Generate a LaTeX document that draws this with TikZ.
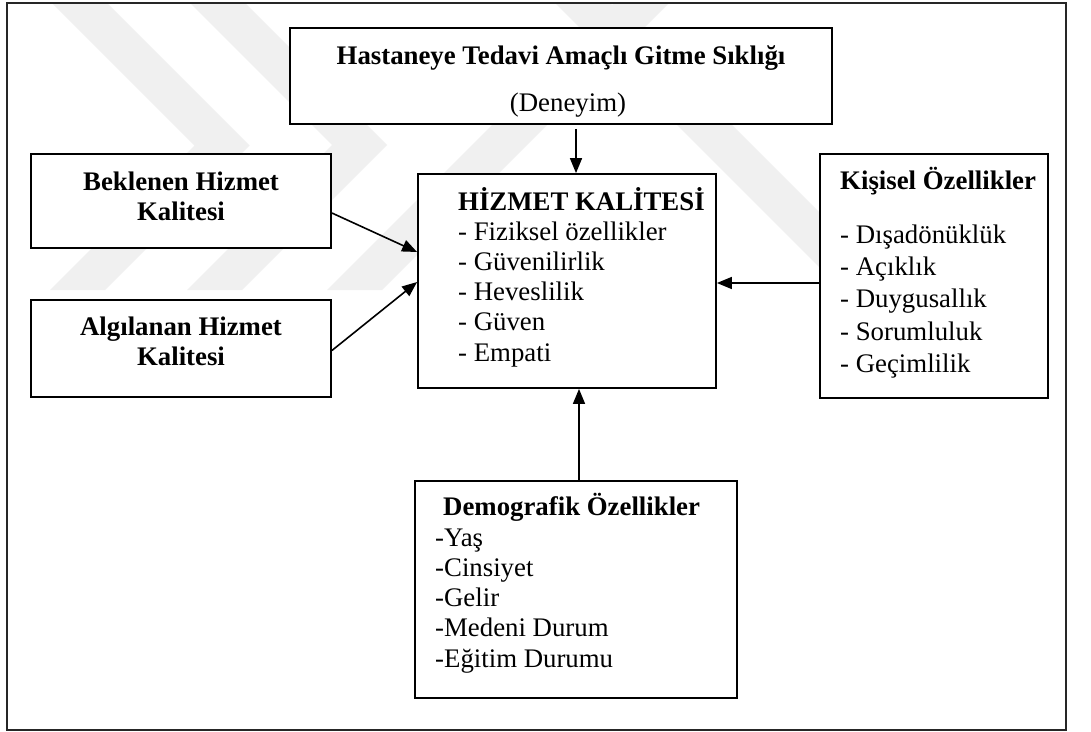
\documentclass[tikz,border=0pt]{standalone}
\usepackage{fontspec}
\setmainfont{Liberation Serif}
\usetikzlibrary{arrows.meta}
\begin{document}
\begin{tikzpicture}[x=1pt,y=-1pt,
  box/.style={draw,line width=1.8pt,fill=white,rectangle,inner sep=0pt},
  txt/.style={inner sep=0pt,font=\fontsize{26.8}{30.2}\selectfont},
  btxt/.style={inner sep=0pt,font=\fontsize{26.8}{30.2}\selectfont\bfseries},
  link/.style={line width=1.6pt,-{Triangle[length=15pt,width=12pt]}},
  wmark/.style={fill=black!6}]
\useasboundingbox (0,0) rectangle (1091,731);
\fill[white] (0,0) rectangle (1091,731);

% faint background emblem
\begin{scope}
  \clip (7,3) rectangle (1066,290);
  \fill[wmark] (52,3) -- (107,3) -- (249.5,145.5) -- (105,290) -- (50,290) -- (194.5,145.5) -- cycle;
  \fill[wmark] (190,3) -- (245,3) -- (387,145) -- (242,290) -- (187,290) -- (332,145) -- cycle;
  \fill[wmark] (555,3) -- (610,3) -- (897,290) -- (842,290) -- cycle;
  \fill[wmark] (327,290) -- (382,290) -- (669,3) -- (614,3) -- cycle;
\end{scope}

% outer frame
\draw[line width=1.5pt,black!85] (7,3) rectangle (1066,730);

% boxes
\node[box,minimum width=542pt,minimum height=96pt]  (top) at (561,76) {};
\node[box,minimum width=300pt,minimum height=94pt]  (bek) at (181,201) {};
\node[box,minimum width=300pt,minimum height=97pt]  (alg) at (181,348.5) {};
\node[box,minimum width=298pt,minimum height=214pt] (hiz) at (567,281) {};
\node[box,minimum width=228pt,minimum height=244pt] (kis) at (934,276) {};
\node[box,minimum width=322pt,minimum height=217pt] (dem) at (576,589.5) {};

% texts
\node[btxt,anchor=base] (topt) at (561,64) {Hastaneye Tedavi Amaçlı Gitme Sıklığı};
\node[txt,anchor=base] (tops) at (568,111) {(Deneyim)};

\node[btxt,anchor=base] (bek1) at (181,190) {Beklenen Hizmet};
\node[btxt,anchor=base] (bek2) at (181,220) {Kalitesi};
\node[btxt,anchor=base] (alg1) at (181,335) {Algılanan Hizmet};
\node[btxt,anchor=base] (alg2) at (181,365) {Kalitesi};

\node[btxt,anchor=base west] (hizt) at (458,210) {HİZMET KALİTESİ};
\foreach \s [count=\i] in {Fiziksel özellikler,Güvenilirlik,Heveslilik,Güven,Empati}
  \node[txt,anchor=base west] (hiz\i) at (458,{210+30.2*\i}) {- \s};

\node[btxt,anchor=base west] (kist) at (840,189) {Kişisel Özellikler};
\foreach \s [count=\i] in {Dışadönüklük,Açıklık,Duygusallık,Sorumluluk,Geçimlilik}
  \node[txt,anchor=base west] (kis\i) at (840,{243+32.4*(\i-1)}) {- \s};

\node[btxt,anchor=base west] (demt) at (443,515) {Demografik Özellikler};
\foreach \s [count=\i] in {Yaş,Cinsiyet,Gelir,Medeni Durum,Eğitim Durumu}
  \node[txt,anchor=base west] (dem\i) at (435,{516+30.2*\i}) {-\s};

% connectors
\coordinate (topout) at ([xshift=15pt,yshift=-4pt]top.south);
\draw[link] (topout) -- (topout |- hiz.north);
\draw[link] ([yshift=-12pt]bek.east) -- ([yshift=29pt]hiz.west);
\draw[link] ([yshift=-2pt]alg.east) -- ([yshift=-1pt]hiz.west);
\draw[link] (kis.west |- 0,283) -- (hiz.east |- 0,283);
\draw[link] ([xshift=3pt]dem.north) -- ([xshift=12pt]hiz.south);
\end{tikzpicture}
\end{document}
